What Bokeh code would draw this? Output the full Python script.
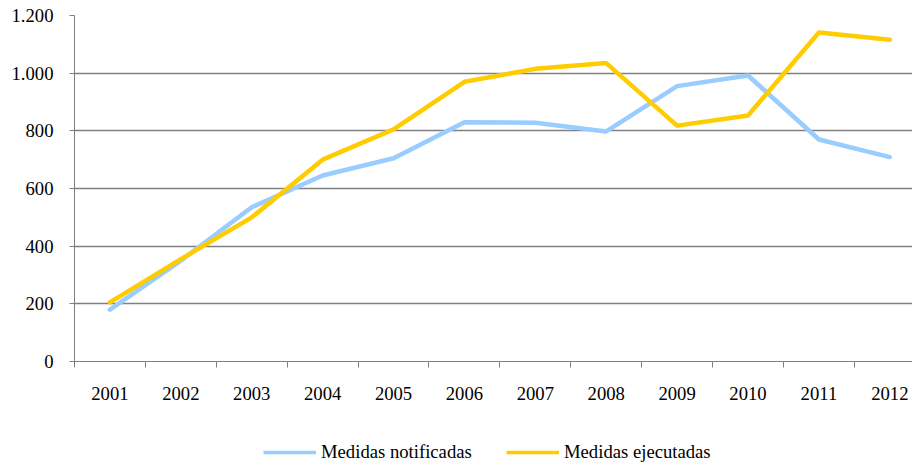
from bokeh.plotting import figure
from bokeh.layouts import column
from bokeh.models import FixedTicker, Legend, LegendItem, Range1d
from bokeh.embed import file_html
from bokeh.resources import INLINE

years = ["2001", "2002", "2003", "2004", "2005", "2006",
         "2007", "2008", "2009", "2010", "2011", "2012"]
notificadas = [180, 350, 535, 645, 705, 830, 828, 798, 955, 992, 770, 709]
ejecutadas = [205, 355, 500, 700, 805, 970, 1015, 1035, 818, 853, 1141, 1116]
y_ticks = [0, 200, 400, 600, 800, 1000, 1200]
y_labels = ["0", "200", "400", "600", "800", "1.000", "1.200"]
series_names = ["Medidas notificadas", "Medidas ejecutadas"]
series_colors = ["#99CCFF", "#FFCC00"]
legend_x = [189, 432]

FONT = "Liberation Serif"
FSIZE = "18.67px"
GRAY = "#808080"

xs = [i + 0.5 for i in range(len(years))]

p = figure(width=912, height=406, output_backend="svg", toolbar_location=None,
           x_range=Range1d(0, 11.82), y_range=Range1d(0, 1200),
           min_border_left=74, min_border_right=0, min_border_top=15,
           min_border_bottom=45)
p.outline_line_color = None

# y axis
p.yaxis.ticker = FixedTicker(ticks=y_ticks)
p.yaxis.major_label_overrides = {t: l for t, l in zip(y_ticks, y_labels)}
p.yaxis.axis_line_color = GRAY
p.yaxis.major_tick_line_color = GRAY
p.yaxis.major_tick_out = 5
p.yaxis.major_tick_in = 0
p.yaxis.minor_tick_line_color = None
p.yaxis.major_label_standoff = 16
p.yaxis.major_label_text_font = FONT
p.yaxis.major_label_text_font_size = FSIZE
p.yaxis.major_label_text_color = "black"

# x axis
p.xaxis.ticker = FixedTicker(ticks=xs, minor_ticks=list(range(len(years) + 1)))
p.xaxis.major_label_overrides = {x: y for x, y in zip(xs, years)}
p.xaxis.axis_line_color = GRAY
p.xaxis.major_tick_line_color = None
p.xaxis.minor_tick_line_color = GRAY
p.xaxis.minor_tick_out = 6
p.xaxis.minor_tick_in = 0
p.xaxis.major_tick_out = 6
p.xaxis.major_tick_in = 0
p.xaxis.major_label_standoff = 19
p.xaxis.major_label_text_font = FONT
p.xaxis.major_label_text_font_size = FSIZE
p.xaxis.major_label_text_color = "black"

p.xgrid.grid_line_color = None
p.ygrid.ticker = FixedTicker(ticks=y_ticks)
p.ygrid.grid_line_color = GRAY
p.ygrid.grid_line_width = 1.6

r1 = p.line(xs, notificadas, line_color=series_colors[0], line_width=4.5,
            line_cap="round", line_join="round")
r2 = p.line(xs, ejecutadas, line_color=series_colors[1], line_width=4.5,
            line_cap="round", line_join="round")

# legend panel below (single-point lines only serve as legend swatches)
lg = figure(width=912, height=58, output_backend="svg", toolbar_location=None,
            x_axis_type=None, y_axis_type=None,
            x_range=Range1d(0, 1), y_range=Range1d(0, 1),
            min_border_left=0, min_border_right=0, min_border_top=0,
            min_border_bottom=0)
lg.outline_line_color = None
lg.xgrid.grid_line_color = None
lg.ygrid.grid_line_color = None

for name, vals, c, lx in zip(series_names, [notificadas, ejecutadas],
                             series_colors, legend_x):
    sw = lg.line(xs[:1], vals[:1], line_color=c, line_width=3.5)
    legend = Legend(items=[LegendItem(label=name, renderers=[sw])],
                    orientation="horizontal", location=(lx, 1),
                    padding=0, margin=0, spacing=0, glyph_width=53,
                    glyph_height=20, label_standoff=5, label_text_font=FONT,
                    label_text_font_size=FSIZE, label_height=20,
                    label_text_color="black", border_line_color=None,
                    background_fill_alpha=0)
    lg.add_layout(legend, "center")

layout = column(p, lg, spacing=0)
open("out.html", "w").write(file_html(layout, INLINE))
